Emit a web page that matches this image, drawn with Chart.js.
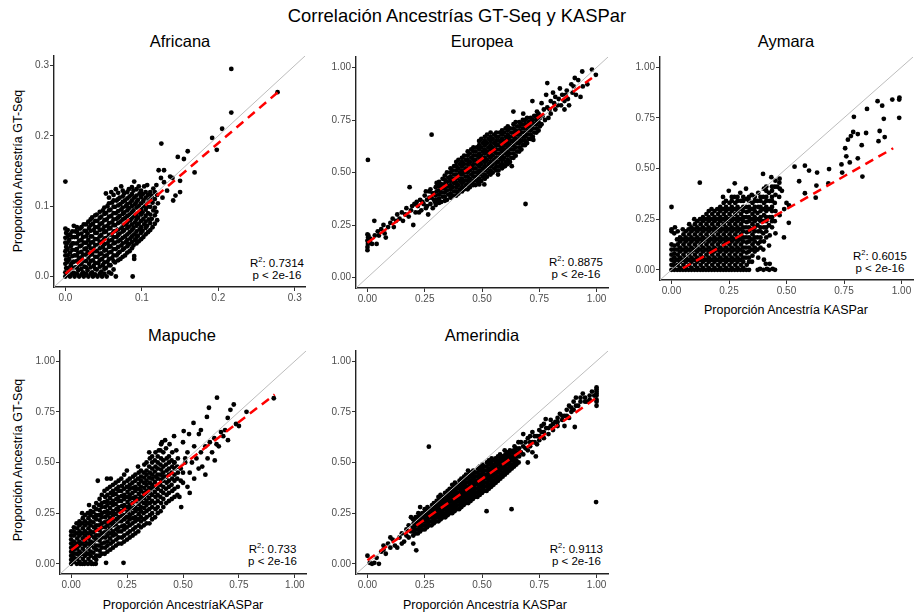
<!DOCTYPE html>
<html>
<head>
<meta charset="utf-8">
<script src="https://cdn.jsdelivr.net/npm/chart.js@4.4.1/dist/chart.umd.min.js"></script>
<style>
  body { margin: 0; background: #fff; font-family: "Liberation Sans", Arial, sans-serif; }
  #page { position: relative; width: 914px; height: 614px; overflow: hidden; }
  canvas { position: absolute; }
  .t { position: absolute; white-space: nowrap; transform: translate(-50%, -50%); color: #000; }
  .main { font-size: 18.4px; }
  .panel { font-size: 16.5px; }
  .axis { font-size: 12.5px; }
  .ylab { transform: translate(-50%, -50%) rotate(-90deg); }
  .stat { position: absolute; white-space: nowrap; font-size: 11.5px; line-height: 11.5px; text-align: center; transform: translate(-100%, -50%); }
  .stat sup { font-size: 7.5px; line-height: 0; }
</style>
</head>
<body>
<div id="page">
  <div class="t main" style="left:457px; top:16px;">Correlación Ancestrías GT-Seq y KASPar</div>

  <div class="t panel" style="left:180px; top:41px;">Africana</div>
  <div class="t panel" style="left:482px; top:41px;">Europea</div>
  <div class="t panel" style="left:786px; top:41px;">Aymara</div>
  <div class="t panel" style="left:182px; top:335px;">Mapuche</div>
  <div class="t panel" style="left:482px; top:335px;">Amerindia</div>

  <div class="t axis ylab" style="left:18px; top:171px;">Proporción Ancestría GT-Seq</div>
  <div class="t axis ylab" style="left:18px; top:460px;">Proporción Ancestría GT-Seq</div>
  <div class="t axis" style="left:786px; top:310px;">Proporción Ancestría KASPar</div>
  <div class="t axis" style="left:183px; top:605px;">Proporción AncestríaKASPar</div>
  <div class="t axis" style="left:485px; top:605px;">Proporción Ancestría KASPar</div>

  <div class="stat" style="left:304px; top:269px;">R<sup>2</sup>: 0.7314<br>p &lt; 2e-16</div>
  <div class="stat" style="left:603px; top:268px;">R<sup>2</sup>: 0.8875<br>p &lt; 2e-16</div>
  <div class="stat" style="left:907px; top:262px;">R<sup>2</sup>: 0.6015<br>p &lt; 2e-16</div>
  <div class="stat" style="left:297px; top:555px;">R<sup>2</sup>: 0.733<br>p &lt; 2e-16</div>
  <div class="stat" style="left:603px; top:555px;">R<sup>2</sup>: 0.9113<br>p &lt; 2e-16</div>

  <canvas id="afr"></canvas>
  <canvas id="eur"></canvas>
  <canvas id="aym"></canvas>
  <canvas id="map"></canvas>
  <canvas id="ame"></canvas>
</div>

<script>
// ticks
const ticksAfr = [0, 0.1, 0.2, 0.3];
const labelsAfr = ['0.0', '0.1', '0.2', '0.3'];
const ticks01 = [0, 0.25, 0.5, 0.75, 1];
const labels01 = ['0.00', '0.25', '0.50', '0.75', '1.00'];

// y = x reference line and fitted lines (KASPar, GT-Seq)
const identityLine = [[-0.2, -0.2], [1.3, 1.3]];
const fitAfricana = [[0, 0.004], [0.278, 0.262]];
const fitEuropea = [[0, 0.165], [0.98, 0.95]];
const fitAymara = [[0.05, 0.008], [0.964, 0.6]];
const fitMapuche = [[0, 0.067], [0.91, 0.835]];
const fitAmerindia = [[0, 0.018], [1, 0.82]];

// individuals: [KASPar, GT-Seq]
const africana = [
  [0,0],[0,0.006],[0.001,0.012],[0,0.018],[0.001,0.024],[0,0.03],[0,0.036],[0.001,0.042],[0,0.048],[0,0.055],[0.001,0.062],[0,0.068],[0,0.135],
  [0.006,0],[0.005,0.008],[0.007,0.016],[0.005,0.025],[0.006,0.034],[0.007,0.043],[0.005,0.052],[0.006,0.06],
  [0.012,0],[0.011,0.005],[0.013,0.013],[0.011,0.021],[0.012,0.03],[0.013,0.038],[0.011,0.047],[0.012,0.056],[0.013,0.064],[0.011,0.072],
  [0.018,0],[0.017,0.009],[0.019,0.017],[0.018,0.026],[0.017,0.034],[0.019,0.043],[0.018,0.051],[0.017,0.06],[0.019,0.068],
  [0.024,0],[0.023,0.006],[0.025,0.014],[0.024,0.022],[0.023,0.031],[0.025,0.039],[0.024,0.048],[0.023,0.056],[0.025,0.065],[0.024,0.074],
  [0.03,0],[0.029,0.009],[0.031,0.018],[0.03,0.027],[0.029,0.035],[0.031,0.044],[0.03,0.052],[0.029,0.061],[0.031,0.069],[0.03,0.078],
  [0.036,0],[0.035,0.006],[0.037,0.015],[0.036,0.023],[0.035,0.032],[0.037,0.04],[0.036,0.049],[0.035,0.057],[0.037,0.066],[0.036,0.075],[0.035,0.084],
  [0.042,0],[0.041,0.01],[0.043,0.019],[0.042,0.028],[0.041,0.036],[0.043,0.045],[0.042,0.053],[0.041,0.062],[0.043,0.07],[0.042,0.079],[0.041,0.088],
  [0.048,0],[0.047,0.007],[0.049,0.016],[0.048,0.025],[0.047,0.033],[0.049,0.042],[0.048,0.05],[0.047,0.059],[0.049,0.067],[0.048,0.076],[0.047,0.085],[0.049,0.094],
  [0.054,0],[0.053,0.012],[0.055,0.021],[0.054,0.03],[0.053,0.038],[0.055,0.047],[0.054,0.055],[0.053,0.064],[0.055,0.072],[0.054,0.081],[0.053,0.09],[0.055,0.1],[0.053,0.118],
  [0.06,0.004],[0.059,0.016],[0.061,0.026],[0.06,0.035],[0.059,0.043],[0.061,0.052],[0.06,0.06],[0.059,0.069],[0.061,0.077],[0.06,0.086],[0.059,0.095],[0.061,0.105],[0.06,0.12],
  [0.066,0],[0.065,0.02],[0.067,0.03],[0.066,0.039],[0.065,0.048],[0.067,0.056],[0.066,0.065],[0.065,0.073],[0.067,0.082],[0.066,0.09],[0.065,0.099],[0.067,0.108],[0.066,0.124],
  [0.072,0.025],[0.071,0.035],[0.073,0.044],[0.072,0.052],[0.071,0.061],[0.073,0.069],[0.072,0.078],[0.071,0.086],[0.073,0.095],[0.072,0.103],[0.071,0.112],[0.073,0.128],
  [0.078,0.03],[0.077,0.04],[0.079,0.049],[0.078,0.057],[0.077,0.066],[0.079,0.074],[0.078,0.083],[0.077,0.091],[0.079,0.1],[0.078,0.108],[0.077,0.118],
  [0.084,0.036],[0.083,0.046],[0.085,0.054],[0.084,0.063],[0.083,0.071],[0.085,0.08],[0.084,0.088],[0.083,0.097],[0.085,0.105],[0.084,0.114],[0.083,0.124],
  [0.09,0.025],[0.089,0.044],[0.091,0.052],[0.09,0.06],[0.089,0.069],[0.091,0.077],[0.09,0.086],[0.089,0.094],[0.091,0.103],[0.09,0.112],[0.089,0.122],[0.09,0.135],
  [0.096,0.05],[0.095,0.058],[0.097,0.067],[0.096,0.075],[0.095,0.084],[0.097,0.092],[0.096,0.1],[0.095,0.109],[0.097,0.118],[0.096,0.128],
  [0.102,0.056],[0.101,0.065],[0.103,0.074],[0.102,0.082],[0.101,0.091],[0.103,0.1],[0.102,0.108],[0.101,0.117],[0.103,0.128],
  [0.108,0.063],[0.107,0.072],[0.109,0.081],[0.108,0.09],[0.107,0.099],[0.109,0.107],[0.108,0.116],[0.107,0.13],
  [0.114,0.07],[0.113,0.082],[0.115,0.094],[0.114,0.105],[0.113,0.115],[0.115,0.125],
  [0.12,0.08],[0.119,0.092],[0.121,0.104],[0.12,0.116],[0.119,0.13],
  [0.088,0],[0.09,0.029],[0.122,0.151],[0.129,0.151],[0.137,0.142],[0.129,0.134],[0.1255,0.189],[0.127,0.112],[0.141,0.108],[0.144,0.115],
  [0.15,0.12],[0.15,0.136],[0.147,0.17],[0.155,0.167],[0.16,0.178],[0.169,0.148],[0.192,0.197],[0.198,0.18],[0.205,0.21],[0.217,0.233],
  [0.217,0.295],[0.2775,0.262],[0.133,0.122],[0.14,0.14],[0.125,0.14]
];
const africanaDense = [
  [0.003,0.003],[0.003,0.012],[0.003,0.021],[0.003,0.03],[0.003,0.039],[0.003,0.048],[0.003,0.057],[0.003,0.066],
  [0.009,0.004],[0.009,0.012],[0.009,0.02],[0.009,0.029],[0.009,0.038],[0.009,0.047],[0.009,0.056],[0.009,0.064],
  [0.015,0.004],[0.015,0.013],[0.015,0.022],[0.015,0.03],[0.015,0.039],[0.015,0.047],[0.015,0.056],[0.015,0.064],[0.015,0.07],
  [0.021,0.003],[0.021,0.011],[0.021,0.018],[0.021,0.027],[0.021,0.035],[0.021,0.044],[0.021,0.052],[0.021,0.061],[0.021,0.07],
  [0.027,0.004],[0.027,0.013],[0.027,0.022],[0.027,0.031],[0.027,0.04],[0.027,0.048],[0.027,0.057],[0.027,0.065],[0.027,0.074],
  [0.033,0.004],[0.033,0.013],[0.033,0.022],[0.033,0.031],[0.033,0.04],[0.033,0.048],[0.033,0.057],[0.033,0.065],[0.033,0.073],[0.033,0.081],
  [0.039,0.003],[0.039,0.011],[0.039,0.019],[0.039,0.028],[0.039,0.036],[0.039,0.045],[0.039,0.053],[0.039,0.062],[0.039,0.07],[0.039,0.079],[0.039,0.087],
  [0.045,0.004],[0.045,0.014],[0.045,0.023],[0.045,0.032],[0.045,0.04],[0.045,0.049],[0.045,0.057],[0.045,0.066],[0.045,0.074],[0.045,0.083],[0.045,0.092],
  [0.051,0.004],[0.051,0.011],[0.051,0.02],[0.051,0.029],[0.051,0.037],[0.051,0.046],[0.051,0.054],[0.051,0.063],[0.051,0.071],[0.051,0.08],[0.051,0.089],[0.051,0.098],
  [0.057,0.006],[0.057,0.016],[0.057,0.025],[0.057,0.034],[0.057,0.042],[0.057,0.051],[0.057,0.059],[0.057,0.068],[0.057,0.076],[0.057,0.085],[0.057,0.094],[0.057,0.104],[0.057,0.112],
  [0.063,0.01],[0.063,0.022],[0.063,0.03],[0.063,0.039],[0.063,0.047],[0.063,0.056],[0.063,0.064],[0.063,0.073],[0.063,0.081],[0.063,0.09],[0.063,0.099],[0.063,0.108],[0.063,0.116],
  [0.069,0.023],[0.069,0.033],[0.069,0.042],[0.069,0.05],[0.069,0.059],[0.069,0.067],[0.069,0.076],[0.069,0.084],[0.069,0.093],[0.069,0.101],[0.069,0.11],[0.069,0.119],
  [0.075,0.028],[0.075,0.038],[0.075,0.047],[0.075,0.055],[0.075,0.064],[0.075,0.072],[0.075,0.081],[0.075,0.089],[0.075,0.098],[0.075,0.106],[0.075,0.114],[0.075,0.122],
  [0.081,0.034],[0.081,0.043],[0.081,0.052],[0.081,0.06],[0.081,0.069],[0.081,0.077],[0.081,0.086],[0.081,0.094],[0.081,0.103],[0.081,0.111],[0.081,0.12],
  [0.087,0.04],[0.087,0.049],[0.087,0.057],[0.087,0.066],[0.087,0.074],[0.087,0.083],[0.087,0.091],[0.087,0.1],[0.087,0.108],[0.087,0.117],[0.087,0.127],
  [0.093,0.047],[0.093,0.055],[0.093,0.064],[0.093,0.072],[0.093,0.081],[0.093,0.089],[0.093,0.098],[0.093,0.106],[0.093,0.115],[0.093,0.124],
  [0.099,0.053],[0.099,0.062],[0.099,0.07],[0.099,0.079],[0.099,0.088],[0.099,0.096],[0.099,0.104],[0.099,0.113],[0.099,0.122],
  [0.105,0.06],[0.105,0.069],[0.105,0.078],[0.105,0.086],[0.105,0.095],[0.105,0.103],[0.105,0.112],[0.105,0.12],
  [0.111,0.066],[0.111,0.076],[0.111,0.088],[0.111,0.099],[0.111,0.11],[0.111,0.12],
  [0.117,0.075],[0.117,0.087],[0.117,0.098],[0.117,0.11],[0.117,0.12]
];

const europea = [
  [0,0.13],[0,0.145],[0.002,0.16],[0,0.175],[0.003,0.19],[0,0.205],[0.004,0.2],[0.002,0.56],
  [0.01,0.17],[0.012,0.185],[0.02,0.16],[0.03,0.27],[0.032,0.2],[0.04,0.16],[0.045,0.22],[0.05,0.2],[0.06,0.23],[0.07,0.25],[0.075,0.21],[0.08,0.19],
  [0.09,0.24],[0.1,0.26],[0.11,0.28],[0.115,0.24],[0.125,0.27],[0.13,0.3],[0.14,0.28],[0.15,0.31],[0.155,0.27],[0.165,0.3],
  [0.17,0.33],[0.18,0.29],[0.184,0.43],[0.19,0.32],[0.2,0.25],[0.205,0.35],[0.21,0.31],[0.22,0.34],[0.23,0.37],[0.235,0.32],
  [0.245,0.35],[0.25,0.39],[0.255,0.33],[0.26,0.37],[0.265,0.3],[0.27,0.41],[0.275,0.35],[0.28,0.38],[0.28,0.68],[0.285,0.33],[0.29,0.4],[0.295,0.36],
  [0.298,0.345],[0.302,0.37],[0.298,0.39],[0.302,0.41],[0.298,0.43],[0.302,0.45],
  [0.322,0.36],[0.328,0.385],[0.322,0.405],[0.328,0.425],[0.322,0.445],[0.328,0.47],
  [0.347,0.37],[0.353,0.395],[0.347,0.415],[0.353,0.435],[0.347,0.455],[0.353,0.475],[0.347,0.5],
  [0.372,0.39],[0.378,0.41],[0.372,0.43],[0.378,0.45],[0.372,0.47],[0.378,0.49],[0.372,0.51],[0.378,0.53],
  [0.397,0.4],[0.403,0.42],[0.397,0.44],[0.403,0.46],[0.397,0.48],[0.403,0.5],[0.397,0.52],[0.403,0.54],[0.397,0.56],
  [0.422,0.42],[0.428,0.44],[0.422,0.46],[0.428,0.48],[0.422,0.5],[0.428,0.52],[0.422,0.54],[0.428,0.56],[0.422,0.58],
  [0.447,0.43],[0.453,0.45],[0.447,0.47],[0.453,0.49],[0.447,0.51],[0.453,0.53],[0.447,0.55],[0.453,0.57],[0.447,0.59],[0.453,0.61],
  [0.472,0.44],[0.478,0.46],[0.472,0.48],[0.478,0.5],[0.472,0.52],[0.478,0.54],[0.472,0.56],[0.478,0.58],[0.472,0.6],[0.478,0.62],
  [0.497,0.46],[0.503,0.48],[0.497,0.5],[0.503,0.52],[0.497,0.54],[0.503,0.56],[0.497,0.58],[0.503,0.6],[0.497,0.62],[0.503,0.64],[0.497,0.66],
  [0.522,0.48],[0.528,0.5],[0.522,0.52],[0.528,0.54],[0.522,0.56],[0.528,0.58],[0.522,0.6],[0.528,0.62],[0.522,0.64],[0.528,0.66],[0.522,0.68],
  [0.547,0.5],[0.553,0.52],[0.547,0.54],[0.553,0.56],[0.547,0.58],[0.553,0.6],[0.547,0.62],[0.553,0.64],[0.547,0.66],[0.553,0.68],
  [0.572,0.51],[0.578,0.53],[0.572,0.55],[0.578,0.57],[0.572,0.59],[0.578,0.61],[0.572,0.63],[0.578,0.65],[0.572,0.67],[0.578,0.69],
  [0.597,0.53],[0.603,0.55],[0.597,0.57],[0.603,0.59],[0.597,0.61],[0.603,0.63],[0.597,0.65],[0.603,0.67],[0.597,0.69],[0.603,0.71],
  [0.622,0.55],[0.628,0.57],[0.622,0.59],[0.628,0.61],[0.622,0.63],[0.628,0.65],[0.622,0.67],[0.628,0.69],[0.622,0.71],
  [0.647,0.58],[0.653,0.6],[0.647,0.62],[0.653,0.64],[0.647,0.66],[0.653,0.68],[0.647,0.7],[0.653,0.72],[0.647,0.74],
  [0.672,0.61],[0.678,0.63],[0.672,0.65],[0.678,0.67],[0.672,0.69],[0.678,0.71],[0.672,0.73],[0.678,0.75],
  [0.697,0.64],[0.703,0.66],[0.697,0.68],[0.703,0.7],[0.697,0.72],[0.703,0.74],[0.697,0.76],
  [0.722,0.67],[0.728,0.69],[0.722,0.71],[0.728,0.73],[0.722,0.75],[0.728,0.77],
  [0.747,0.7],[0.753,0.72],[0.747,0.74],[0.753,0.76],[0.747,0.78],
  [0.488,0.443],[0.51,0.443],[0.63,0.53],[0.57,0.49],[0.6,0.53],[0.69,0.35],[0.637,0.79],[0.68,0.78],[0.72,0.84],[0.724,0.655],
  [0.76,0.83],[0.77,0.8],[0.78,0.87],[0.785,0.926],[0.8,0.84],[0.8,0.78],[0.81,0.88],[0.82,0.86],[0.83,0.82],[0.84,0.9],
  [0.85,0.87],[0.86,0.84],[0.87,0.89],[0.88,0.82],[0.89,0.92],[0.9,0.91],[0.905,0.95],[0.91,0.87],[0.92,0.94],[0.93,0.86],
  [0.9375,0.981],[0.94,0.91],[0.96,0.92],[0.98,0.99],[0.997,0.965],[0.74,0.79],[0.76,0.73],[0.79,0.76],[0.82,0.8],[0.86,0.8],
  [0.765,0.77],[0.775,0.75],[0.785,0.81],[0.795,0.8],[0.815,0.83],[0.835,0.85],[0.845,0.82],[0.865,0.87],[0.875,0.85],[0.895,0.88],
  [0.215,0.36],[0.225,0.31],[0.24,0.36],[0.26,0.34],[0.27,0.38],[0.285,0.4],[0.275,0.42],[0.29,0.37],[0.255,0.41],[0.195,0.34]
];
const europeaDense = [
  [0.3125,0.355],[0.3125,0.375],[0.3125,0.395],[0.3125,0.415],[0.3125,0.435],[0.3125,0.455],
  [0.3375,0.365],[0.3375,0.385],[0.3375,0.405],[0.3375,0.425],[0.3375,0.445],[0.3375,0.465],[0.3375,0.485],
  [0.3625,0.38],[0.3625,0.4],[0.3625,0.42],[0.3625,0.44],[0.3625,0.46],[0.3625,0.48],[0.3625,0.5],[0.3625,0.52],
  [0.3875,0.39],[0.3875,0.41],[0.3875,0.43],[0.3875,0.45],[0.3875,0.47],[0.3875,0.49],[0.3875,0.51],[0.3875,0.53],[0.3875,0.55],
  [0.4125,0.41],[0.4125,0.43],[0.4125,0.45],[0.4125,0.47],[0.4125,0.49],[0.4125,0.51],[0.4125,0.53],[0.4125,0.55],[0.4125,0.57],
  [0.4375,0.42],[0.4375,0.44],[0.4375,0.46],[0.4375,0.48],[0.4375,0.5],[0.4375,0.52],[0.4375,0.54],[0.4375,0.56],[0.4375,0.58],[0.4375,0.6],
  [0.4625,0.44],[0.4625,0.46],[0.4625,0.48],[0.4625,0.5],[0.4625,0.52],[0.4625,0.54],[0.4625,0.56],[0.4625,0.58],[0.4625,0.6],[0.4625,0.62],
  [0.4875,0.45],[0.4875,0.47],[0.4875,0.49],[0.4875,0.51],[0.4875,0.53],[0.4875,0.55],[0.4875,0.57],[0.4875,0.59],[0.4875,0.61],[0.4875,0.63],[0.4875,0.65],
  [0.5125,0.47],[0.5125,0.49],[0.5125,0.51],[0.5125,0.53],[0.5125,0.55],[0.5125,0.57],[0.5125,0.59],[0.5125,0.61],[0.5125,0.63],[0.5125,0.65],[0.5125,0.67],
  [0.5375,0.49],[0.5375,0.51],[0.5375,0.53],[0.5375,0.55],[0.5375,0.57],[0.5375,0.59],[0.5375,0.61],[0.5375,0.63],[0.5375,0.65],[0.5375,0.67],[0.5375,0.69],
  [0.5625,0.51],[0.5625,0.53],[0.5625,0.55],[0.5625,0.57],[0.5625,0.59],[0.5625,0.61],[0.5625,0.63],[0.5625,0.65],[0.5625,0.67],[0.5625,0.69],
  [0.5875,0.52],[0.5875,0.54],[0.5875,0.56],[0.5875,0.58],[0.5875,0.6],[0.5875,0.62],[0.5875,0.64],[0.5875,0.66],[0.5875,0.68],[0.5875,0.7],
  [0.6125,0.54],[0.6125,0.56],[0.6125,0.58],[0.6125,0.6],[0.6125,0.62],[0.6125,0.64],[0.6125,0.66],[0.6125,0.68],[0.6125,0.7],[0.6125,0.72],
  [0.6375,0.57],[0.6375,0.59],[0.6375,0.61],[0.6375,0.63],[0.6375,0.65],[0.6375,0.67],[0.6375,0.69],[0.6375,0.71],[0.6375,0.73],
  [0.6625,0.6],[0.6625,0.62],[0.6625,0.64],[0.6625,0.66],[0.6625,0.68],[0.6625,0.7],[0.6625,0.72],[0.6625,0.74],
  [0.6875,0.63],[0.6875,0.65],[0.6875,0.67],[0.6875,0.69],[0.6875,0.71],[0.6875,0.73],[0.6875,0.75],
  [0.7125,0.66],[0.7125,0.68],[0.7125,0.7],[0.7125,0.72],[0.7125,0.74],[0.7125,0.76],
  [0.7375,0.69],[0.7375,0.71],[0.7375,0.73],[0.7375,0.75],[0.7375,0.77]
];

const aymara = [
  [0,0],[0,0.025],[0,0.05],[0,0.075],[0,0.1],[0,0.125],[0,0.19],[0,0.2],[0,0.31],
  [0.012,0],[0.012,0.02],[0.012,0.04],[0.012,0.06],[0.012,0.08],[0.012,0.1],[0.012,0.12],[0.012,0.18],[0.015,0.21],
  [0.025,0],[0.027,0.025],[0.024,0.05],[0.027,0.075],[0.024,0.1],[0.027,0.125],[0.024,0.15],[0.027,0.19],
  [0.05,0],[0.052,0.025],[0.049,0.05],[0.052,0.075],[0.049,0.1],[0.052,0.125],[0.049,0.15],[0.052,0.175],[0.049,0.2],
  [0.075,0],[0.077,0.025],[0.074,0.05],[0.077,0.075],[0.074,0.1],[0.077,0.125],[0.074,0.15],[0.077,0.175],[0.074,0.2],[0.077,0.225],
  [0.1,0],[0.102,0.025],[0.099,0.05],[0.102,0.075],[0.099,0.1],[0.102,0.125],[0.099,0.15],[0.102,0.175],[0.099,0.2],[0.102,0.225],[0.099,0.25],
  [0.125,0],[0.127,0.025],[0.124,0.05],[0.127,0.075],[0.124,0.1],[0.127,0.125],[0.124,0.15],[0.127,0.175],[0.124,0.2],[0.127,0.225],[0.124,0.25],[0.123,0.43],
  [0.15,0],[0.152,0.025],[0.149,0.05],[0.152,0.075],[0.149,0.1],[0.152,0.125],[0.149,0.15],[0.152,0.175],[0.149,0.2],[0.152,0.225],[0.149,0.25],[0.152,0.275],
  [0.175,0],[0.177,0.025],[0.174,0.05],[0.177,0.075],[0.174,0.1],[0.177,0.125],[0.174,0.15],[0.177,0.175],[0.174,0.2],[0.177,0.225],[0.174,0.25],[0.177,0.275],[0.174,0.3],
  [0.2,0],[0.202,0.025],[0.199,0.05],[0.202,0.075],[0.199,0.1],[0.202,0.125],[0.199,0.15],[0.202,0.175],[0.199,0.2],[0.202,0.225],[0.199,0.25],[0.202,0.275],[0.199,0.3],
  [0.225,0],[0.227,0.025],[0.224,0.05],[0.227,0.075],[0.224,0.1],[0.227,0.125],[0.224,0.15],[0.227,0.175],[0.224,0.2],[0.227,0.225],[0.224,0.25],[0.227,0.275],[0.224,0.3],[0.227,0.33],[0.224,0.36],
  [0.25,0],[0.252,0.025],[0.249,0.05],[0.252,0.075],[0.249,0.1],[0.252,0.125],[0.249,0.15],[0.252,0.175],[0.249,0.2],[0.252,0.225],[0.249,0.25],[0.252,0.275],[0.249,0.3],[0.252,0.33],[0.249,0.39],
  [0.275,0],[0.277,0.025],[0.274,0.05],[0.277,0.075],[0.274,0.1],[0.277,0.125],[0.274,0.15],[0.277,0.175],[0.274,0.2],[0.277,0.225],[0.274,0.25],[0.277,0.275],[0.274,0.3],[0.277,0.33],[0.274,0.36],[0.275,0.427],
  [0.3,0],[0.302,0.025],[0.299,0.05],[0.302,0.075],[0.299,0.1],[0.302,0.125],[0.299,0.15],[0.302,0.175],[0.299,0.2],[0.302,0.225],[0.299,0.25],[0.302,0.275],[0.299,0.3],[0.302,0.34],[0.299,0.38],
  [0.325,0],[0.327,0.025],[0.324,0.06],[0.327,0.085],[0.324,0.11],[0.327,0.135],[0.324,0.16],[0.327,0.185],[0.324,0.21],[0.327,0.235],[0.324,0.26],[0.327,0.285],[0.324,0.31],[0.327,0.35],[0.324,0.4],
  [0.35,0.04],[0.352,0.07],[0.349,0.1],[0.352,0.125],[0.349,0.15],[0.352,0.175],[0.349,0.2],[0.352,0.225],[0.349,0.25],[0.352,0.275],[0.349,0.3],[0.352,0.33],[0.349,0.37],
  [0.375,0],[0.377,0.06],[0.374,0.1],[0.377,0.13],[0.374,0.16],[0.377,0.19],[0.374,0.22],[0.377,0.25],[0.374,0.28],[0.377,0.31],[0.374,0.34],[0.377,0.38],
  [0.4,0],[0.402,0.05],[0.399,0.1],[0.402,0.14],[0.399,0.18],[0.402,0.21],[0.399,0.24],[0.402,0.27],[0.399,0.3],[0.402,0.33],[0.399,0.36],[0.402,0.4],[0.398,0.473],
  [0.425,0],[0.427,0.03],[0.424,0.12],[0.427,0.17],[0.424,0.22],[0.427,0.26],[0.424,0.3],[0.427,0.34],[0.424,0.38],[0.434,0.457],
  [0.45,0],[0.452,0.18],[0.449,0.24],[0.452,0.29],[0.449,0.33],[0.452,0.37],[0.449,0.41],[0.452,0.44],
  [0.47,0.27],[0.468,0.36],[0.471,0.4],[0.469,0.43],
  [0.535,0.509],[0.555,0.437],[0.58,0.514],[0.598,0.49],[0.58,0.378],[0.627,0.356],[0.63,0.416],[0.633,0.48],[0.685,0.497],[0.682,0.426],
  [0.742,0.48],[0.739,0.52],[0.76,0.56],[0.755,0.6],[0.767,0.642],[0.78,0.66],[0.775,0.53],[0.793,0.755],[0.79,0.68],[0.81,0.67],
  [0.846,0.675],[0.81,0.55],[0.827,0.615],[0.83,0.46],[0.85,0.794],[0.896,0.832],[0.916,0.81],[0.923,0.745],[0.905,0.685],[0.9,0.635],
  [0.927,0.655],[0.96,0.84],[0.991,0.85],[0.99,0.84],[0.99,0.75],[0.511,0.318],[0.51,0.232],[0.489,0.16],[0.47,0.45],[0.46,0.41],
  [0.48,0.39],[0.5,0.33],[0.49,0.3],[0.44,0.005],[0.415,0.005],[0.385,0.005],[0.41,0.03]
];
const aymaraDense = [
  [0.037,0],[0.037,0.01],[0.037,0.04],[0.037,0.06],[0.037,0.09],[0.037,0.11],[0.037,0.14],[0.037,0.16],
  [0.062,0],[0.062,0.01],[0.062,0.04],[0.062,0.06],[0.062,0.09],[0.062,0.11],[0.062,0.14],[0.062,0.16],[0.062,0.19],
  [0.087,0],[0.087,0.01],[0.087,0.04],[0.087,0.06],[0.087,0.09],[0.087,0.11],[0.087,0.14],[0.087,0.16],[0.087,0.19],[0.087,0.21],
  [0.112,0],[0.112,0.01],[0.112,0.04],[0.112,0.06],[0.112,0.09],[0.112,0.11],[0.112,0.14],[0.112,0.16],[0.112,0.19],[0.112,0.21],[0.112,0.24],
  [0.137,0],[0.137,0.01],[0.137,0.04],[0.137,0.06],[0.137,0.09],[0.137,0.11],[0.137,0.14],[0.137,0.16],[0.137,0.19],[0.137,0.21],[0.137,0.24],[0.137,0.26],
  [0.162,0],[0.162,0.01],[0.162,0.04],[0.162,0.06],[0.162,0.09],[0.162,0.11],[0.162,0.14],[0.162,0.16],[0.162,0.19],[0.162,0.21],[0.162,0.24],[0.162,0.26],[0.162,0.29],
  [0.187,0],[0.187,0.01],[0.187,0.04],[0.187,0.06],[0.187,0.09],[0.187,0.11],[0.187,0.14],[0.187,0.16],[0.187,0.19],[0.187,0.21],[0.187,0.24],[0.187,0.26],[0.187,0.29],
  [0.212,0],[0.212,0.01],[0.212,0.04],[0.212,0.06],[0.212,0.09],[0.212,0.11],[0.212,0.14],[0.212,0.16],[0.212,0.19],[0.212,0.21],[0.212,0.24],[0.212,0.26],[0.212,0.29],[0.212,0.31],
  [0.237,0],[0.237,0.01],[0.237,0.04],[0.237,0.06],[0.237,0.09],[0.237,0.11],[0.237,0.14],[0.237,0.16],[0.237,0.19],[0.237,0.21],[0.237,0.24],[0.237,0.26],[0.237,0.29],[0.237,0.31],[0.237,0.34],
  [0.262,0],[0.262,0.01],[0.262,0.04],[0.262,0.06],[0.262,0.09],[0.262,0.11],[0.262,0.14],[0.262,0.16],[0.262,0.19],[0.262,0.21],[0.262,0.24],[0.262,0.26],[0.262,0.29],[0.262,0.31],[0.262,0.34],[0.262,0.36],
  [0.287,0],[0.287,0.01],[0.287,0.04],[0.287,0.06],[0.287,0.09],[0.287,0.11],[0.287,0.14],[0.287,0.16],[0.287,0.19],[0.287,0.21],[0.287,0.24],[0.287,0.26],[0.287,0.29],[0.287,0.31],[0.287,0.34],[0.287,0.36],
  [0.312,0],[0.312,0.01],[0.312,0.04],[0.312,0.06],[0.312,0.09],[0.312,0.11],[0.312,0.14],[0.312,0.16],[0.312,0.19],[0.312,0.21],[0.312,0.24],[0.312,0.26],[0.312,0.29],[0.312,0.31],[0.312,0.34],[0.312,0.36],
  [0.337,0],[0.337,0.04],[0.337,0.06],[0.337,0.09],[0.337,0.11],[0.337,0.14],[0.337,0.16],[0.337,0.19],[0.337,0.21],[0.337,0.24],[0.337,0.26],[0.337,0.29],[0.337,0.31],[0.337,0.34],[0.337,0.36],
  [0.362,0.09],[0.362,0.11],[0.362,0.14],[0.362,0.16],[0.362,0.19],[0.362,0.21],[0.362,0.24],[0.362,0.26],[0.362,0.29],[0.362,0.31],[0.362,0.34],[0.362,0.36],
  [0.387,0.11],[0.387,0.14],[0.387,0.16],[0.387,0.19],[0.387,0.21],[0.387,0.24],[0.387,0.26],[0.387,0.29],[0.387,0.31],[0.387,0.34],[0.387,0.36],
  [0.412,0.16],[0.412,0.19],[0.412,0.21],[0.412,0.24],[0.412,0.26],[0.412,0.29],[0.412,0.31],[0.412,0.34],[0.412,0.36],[0.412,0.39],[0.412,0.41],
  [0.437,0.21],[0.437,0.24],[0.437,0.26],[0.437,0.29],[0.437,0.31],[0.437,0.34],[0.437,0.36],[0.437,0.39],[0.437,0.41]
];

const mapuche = [
  [0,0],[0,0.02],[0,0.04],[0,0.06],[0,0.08],[0,0.1],[0,0.12],[0,0.14],[0,0.16],
  [0.025,0],[0.027,0.025],[0.024,0.05],[0.027,0.075],[0.024,0.1],[0.027,0.125],[0.024,0.15],[0.027,0.175],[0.024,0.2],
  [0.05,0],[0.052,0.025],[0.049,0.05],[0.052,0.075],[0.049,0.1],[0.052,0.125],[0.049,0.15],[0.052,0.175],[0.049,0.2],[0.052,0.225],[0.049,0.25],
  [0.075,0],[0.077,0.025],[0.074,0.05],[0.077,0.075],[0.074,0.1],[0.077,0.125],[0.074,0.15],[0.077,0.175],[0.074,0.2],[0.077,0.225],[0.074,0.25],
  [0.1,0],[0.102,0.03],[0.099,0.055],[0.102,0.08],[0.099,0.105],[0.102,0.13],[0.099,0.155],[0.102,0.18],[0.099,0.205],[0.102,0.23],[0.099,0.255],[0.102,0.28],
  [0.125,0.04],[0.127,0.065],[0.124,0.09],[0.127,0.115],[0.124,0.14],[0.127,0.165],[0.124,0.19],[0.127,0.215],[0.124,0.24],[0.127,0.265],[0.124,0.29],[0.127,0.32],[0.119,0.41],
  [0.15,0.05],[0.152,0.08],[0.149,0.105],[0.152,0.13],[0.149,0.155],[0.152,0.18],[0.149,0.205],[0.152,0.23],[0.149,0.255],[0.152,0.28],[0.149,0.305],[0.152,0.33],[0.149,0.36],
  [0.175,0.07],[0.177,0.1],[0.174,0.125],[0.177,0.15],[0.174,0.175],[0.177,0.2],[0.174,0.225],[0.177,0.25],[0.174,0.275],[0.177,0.3],[0.174,0.325],[0.177,0.35],[0.174,0.38],[0.177,0.42],
  [0.2,0.09],[0.202,0.12],[0.199,0.145],[0.202,0.17],[0.199,0.195],[0.202,0.22],[0.199,0.245],[0.202,0.27],[0.199,0.295],[0.202,0.32],[0.199,0.345],[0.202,0.37],[0.199,0.4],
  [0.225,0.1],[0.227,0.13],[0.224,0.16],[0.227,0.185],[0.224,0.21],[0.227,0.235],[0.224,0.26],[0.227,0.285],[0.224,0.31],[0.227,0.335],[0.224,0.36],[0.227,0.385],[0.224,0.42],
  [0.25,0.12],[0.252,0.15],[0.249,0.18],[0.252,0.205],[0.249,0.23],[0.252,0.255],[0.249,0.28],[0.252,0.305],[0.249,0.33],[0.252,0.355],[0.249,0.38],[0.252,0.41],[0.249,0.46],
  [0.275,0.14],[0.277,0.17],[0.274,0.2],[0.277,0.225],[0.274,0.25],[0.277,0.275],[0.274,0.3],[0.277,0.325],[0.274,0.35],[0.277,0.375],[0.274,0.4],[0.277,0.43],
  [0.3,0.16],[0.302,0.19],[0.299,0.22],[0.302,0.245],[0.299,0.27],[0.302,0.295],[0.299,0.32],[0.302,0.345],[0.299,0.37],[0.302,0.395],[0.299,0.42],[0.302,0.45],[0.299,0.48],
  [0.325,0.19],[0.327,0.22],[0.324,0.25],[0.327,0.275],[0.324,0.3],[0.327,0.325],[0.324,0.35],[0.327,0.375],[0.324,0.4],[0.327,0.425],[0.324,0.45],[0.327,0.49],
  [0.35,0.2],[0.352,0.24],[0.349,0.27],[0.352,0.3],[0.349,0.325],[0.352,0.35],[0.349,0.375],[0.352,0.4],[0.349,0.425],[0.352,0.45],[0.349,0.48],[0.352,0.52],[0.349,0.55],
  [0.375,0.23],[0.377,0.27],[0.374,0.3],[0.377,0.33],[0.374,0.355],[0.377,0.38],[0.374,0.405],[0.377,0.43],[0.374,0.455],[0.377,0.48],[0.374,0.51],[0.377,0.55],
  [0.4,0.26],[0.402,0.3],[0.399,0.33],[0.402,0.36],[0.399,0.39],[0.402,0.415],[0.399,0.44],[0.402,0.465],[0.399,0.49],[0.402,0.52],[0.399,0.56],[0.402,0.59],
  [0.425,0.3],[0.427,0.34],[0.424,0.37],[0.427,0.4],[0.424,0.43],[0.427,0.46],[0.424,0.49],[0.427,0.52],[0.424,0.57],
  [0.45,0.32],[0.452,0.36],[0.449,0.39],[0.452,0.42],[0.449,0.45],[0.452,0.48],[0.449,0.51],[0.452,0.55],
  [0.475,0.34],[0.477,0.38],[0.474,0.42],[0.477,0.45],[0.474,0.48],[0.477,0.52],
  [0.652,0.82],[0.906,0.817],[0.784,0.75],[0.727,0.786],[0.712,0.76],[0.737,0.69],[0.75,0.68],[0.701,0.61],[0.688,0.66],[0.616,0.77],
  [0.607,0.725],[0.547,0.695],[0.503,0.655],[0.527,0.64],[0.571,0.64],[0.642,0.51],[0.586,0.48],[0.492,0.28],[0.484,0.33],[0.46,0.63],
  [0.406,0.6],[0.392,0.56],[0.234,0.005],[0.156,0.005],[0.127,0.04],[0.16,0.42],[0.08,0.29],[0.5,0.4],[0.5,0.45],[0.51,0.5],
  [0.52,0.55],[0.53,0.45],[0.54,0.5],[0.55,0.58],[0.56,0.52],[0.57,0.47],[0.58,0.55],[0.6,0.58],[0.61,0.52],[0.62,0.6],
  [0.63,0.55],[0.64,0.62],[0.66,0.58],[0.67,0.65],[0.68,0.63],[0.7,0.72],[0.55,0.42],[0.52,0.38],[0.49,0.41],[0.49,0.47],
  [0.47,0.56],[0.5,0.6],[0.44,0.59],[0.42,0.61],[0.58,0.66],[0.6,0.44],[0.53,0.35],[0.51,0.52],[0.46,0.5],[0.65,0.59],
  [0.04,0],[0.06,0],[0.09,0],[0.11,0]
];
const mapucheDense = [
  [0.012,0.01],[0.012,0.03],[0.012,0.05],[0.012,0.07],[0.012,0.09],[0.012,0.11],[0.012,0.14],[0.012,0.16],[0.012,0.18],
  [0.037,0.01],[0.037,0.04],[0.037,0.06],[0.037,0.09],[0.037,0.11],[0.037,0.14],[0.037,0.16],[0.037,0.19],[0.037,0.21],
  [0.062,0.01],[0.062,0.04],[0.062,0.06],[0.062,0.09],[0.062,0.11],[0.062,0.14],[0.062,0.16],[0.062,0.19],[0.062,0.21],[0.062,0.24],
  [0.087,0.01],[0.087,0.04],[0.087,0.06],[0.087,0.09],[0.087,0.11],[0.087,0.14],[0.087,0.16],[0.087,0.19],[0.087,0.21],[0.087,0.24],[0.087,0.26],
  [0.112,0.02],[0.112,0.04],[0.112,0.07],[0.112,0.09],[0.112,0.12],[0.112,0.14],[0.112,0.17],[0.112,0.19],[0.112,0.22],[0.112,0.24],[0.112,0.27],[0.112,0.3],
  [0.137,0.05],[0.137,0.08],[0.137,0.1],[0.137,0.13],[0.137,0.15],[0.137,0.18],[0.137,0.2],[0.137,0.23],[0.137,0.25],[0.137,0.28],[0.137,0.3],[0.137,0.34],
  [0.162,0.06],[0.162,0.09],[0.162,0.11],[0.162,0.14],[0.162,0.16],[0.162,0.19],[0.162,0.21],[0.162,0.24],[0.162,0.26],[0.162,0.29],[0.162,0.31],[0.162,0.34],[0.162,0.37],
  [0.187,0.08],[0.187,0.11],[0.187,0.14],[0.187,0.16],[0.187,0.19],[0.187,0.21],[0.187,0.24],[0.187,0.26],[0.187,0.29],[0.187,0.31],[0.187,0.34],[0.187,0.36],[0.187,0.39],
  [0.212,0.1],[0.212,0.13],[0.212,0.16],[0.212,0.18],[0.212,0.21],[0.212,0.23],[0.212,0.26],[0.212,0.28],[0.212,0.31],[0.212,0.33],[0.212,0.36],[0.212,0.38],[0.212,0.41],
  [0.237,0.11],[0.237,0.14],[0.237,0.17],[0.237,0.19],[0.237,0.22],[0.237,0.24],[0.237,0.27],[0.237,0.29],[0.237,0.32],[0.237,0.34],[0.237,0.37],[0.237,0.4],[0.237,0.44],
  [0.262,0.13],[0.262,0.16],[0.262,0.19],[0.262,0.22],[0.262,0.24],[0.262,0.27],[0.262,0.29],[0.262,0.32],[0.262,0.34],[0.262,0.37],[0.262,0.39],[0.262,0.42],
  [0.287,0.15],[0.287,0.18],[0.287,0.21],[0.287,0.23],[0.287,0.26],[0.287,0.28],[0.287,0.31],[0.287,0.33],[0.287,0.36],[0.287,0.38],[0.287,0.41],[0.287,0.44],
  [0.312,0.18],[0.312,0.21],[0.312,0.23],[0.312,0.26],[0.312,0.28],[0.312,0.31],[0.312,0.33],[0.312,0.36],[0.312,0.38],[0.312,0.41],[0.312,0.43],[0.312,0.46],
  [0.337,0.2],[0.337,0.23],[0.337,0.26],[0.337,0.29],[0.337,0.31],[0.337,0.34],[0.337,0.36],[0.337,0.39],[0.337,0.41],[0.337,0.44],[0.337,0.46],[0.337,0.5],
  [0.362,0.22],[0.362,0.25],[0.362,0.28],[0.362,0.31],[0.362,0.34],[0.362,0.37],[0.362,0.39],[0.362,0.42],[0.362,0.44],[0.362,0.47],[0.362,0.5],[0.362,0.53],
  [0.387,0.25],[0.387,0.28],[0.387,0.31],[0.387,0.34],[0.387,0.37],[0.387,0.39],[0.387,0.42],[0.387,0.44],[0.387,0.47],[0.387,0.5],[0.387,0.53],
  [0.412,0.28],[0.412,0.32],[0.412,0.35],[0.412,0.38],[0.412,0.41],[0.412,0.43],[0.412,0.45],[0.412,0.48],[0.412,0.51],[0.412,0.55],
  [0.437,0.31],[0.437,0.35],[0.437,0.38],[0.437,0.41],[0.437,0.44],[0.437,0.47],[0.437,0.5],[0.437,0.53],
  [0.462,0.33],[0.462,0.37],[0.462,0.41],[0.462,0.44],[0.462,0.47],[0.462,0.5]
];

const amerindia = [
  [0,0.04],[0.01,0.005],[0.02,0],[0.03,0.005],[0.05,0],[0.04,0.03],[0.06,0.06],[0.07,0.07],[0.08,0.05],[0.07,0.09],
  [0.09,0.1],[0.1,0.08],[0.1,0.13],[0.11,0.12],[0.12,0.09],[0.13,0.08],[0.14,0.13],[0.15,0.1],[0.15,0.15],[0.16,0.11],
  [0.17,0.14],[0.17,0.17],[0.18,0.13],[0.18,0.19],[0.19,0.16],[0.19,0.23],[0.2,0.1],[0.213,0.067],[0.23,0.28],[0.268,0.578],
  [0.2,0.14],[0.202,0.16],[0.199,0.18],[0.202,0.2],[0.199,0.22],
  [0.22,0.15],[0.222,0.17],[0.219,0.19],[0.222,0.21],[0.219,0.23],[0.222,0.25],
  [0.24,0.17],[0.242,0.19],[0.239,0.21],[0.242,0.23],[0.239,0.25],
  [0.26,0.18],[0.262,0.2],[0.259,0.22],[0.262,0.24],[0.259,0.26],[0.262,0.28],
  [0.28,0.19],[0.282,0.21],[0.279,0.23],[0.282,0.25],[0.279,0.27],[0.282,0.29],
  [0.3,0.21],[0.302,0.23],[0.299,0.25],[0.302,0.27],[0.299,0.29],[0.302,0.31],
  [0.32,0.22],[0.322,0.24],[0.319,0.26],[0.322,0.28],[0.319,0.3],[0.322,0.32],[0.319,0.34],
  [0.34,0.23],[0.342,0.25],[0.339,0.27],[0.342,0.29],[0.339,0.31],[0.342,0.33],[0.339,0.35],
  [0.36,0.25],[0.362,0.27],[0.359,0.29],[0.362,0.31],[0.359,0.33],[0.362,0.35],[0.359,0.37],
  [0.38,0.26],[0.382,0.28],[0.379,0.3],[0.382,0.32],[0.379,0.34],[0.382,0.36],[0.379,0.38],[0.382,0.4],
  [0.4,0.27],[0.402,0.29],[0.399,0.31],[0.402,0.33],[0.399,0.35],[0.402,0.37],[0.399,0.39],[0.402,0.41],
  [0.42,0.29],[0.422,0.31],[0.419,0.33],[0.422,0.35],[0.419,0.37],[0.422,0.39],[0.419,0.41],[0.422,0.43],
  [0.44,0.3],[0.442,0.32],[0.439,0.34],[0.442,0.36],[0.439,0.38],[0.442,0.4],[0.439,0.42],[0.442,0.44],[0.439,0.46],
  [0.46,0.32],[0.462,0.34],[0.459,0.36],[0.462,0.38],[0.459,0.4],[0.462,0.42],[0.459,0.44],[0.462,0.46],
  [0.48,0.33],[0.482,0.35],[0.479,0.37],[0.482,0.39],[0.479,0.41],[0.482,0.43],[0.479,0.45],[0.482,0.47],
  [0.5,0.35],[0.502,0.37],[0.499,0.39],[0.502,0.41],[0.499,0.43],[0.502,0.45],[0.499,0.47],[0.502,0.49],
  [0.52,0.36],[0.522,0.38],[0.519,0.4],[0.522,0.42],[0.519,0.44],[0.522,0.46],[0.519,0.48],[0.522,0.5],
  [0.54,0.38],[0.542,0.4],[0.539,0.42],[0.542,0.44],[0.539,0.46],[0.542,0.48],[0.539,0.5],[0.542,0.52],
  [0.56,0.4],[0.562,0.42],[0.559,0.44],[0.562,0.46],[0.559,0.48],[0.562,0.5],[0.559,0.52],
  [0.58,0.42],[0.582,0.44],[0.579,0.46],[0.582,0.48],[0.579,0.5],[0.582,0.52],[0.579,0.54],
  [0.6,0.44],[0.602,0.46],[0.599,0.48],[0.602,0.5],[0.599,0.52],[0.602,0.54],[0.599,0.56],
  [0.62,0.46],[0.622,0.48],[0.619,0.5],[0.622,0.52],[0.619,0.54],[0.622,0.56],
  [0.64,0.48],[0.642,0.5],[0.639,0.52],[0.642,0.54],[0.639,0.56],[0.642,0.58],
  [0.66,0.5],[0.662,0.53],[0.659,0.55],[0.662,0.57],[0.659,0.6],
  [0.52,0.26],[0.629,0.27],[0.998,0.305],[0.7,0.5],[0.735,0.53],[0.778,0.714],[0.905,0.675],
  [0.68,0.58],[0.68,0.54],[0.69,0.6],[0.7,0.56],[0.7,0.62],[0.71,0.58],[0.72,0.6],[0.72,0.55],[0.73,0.63],[0.74,0.59],
  [0.75,0.66],[0.75,0.61],[0.76,0.65],[0.77,0.62],[0.78,0.67],[0.79,0.64],[0.8,0.68],[0.8,0.71],[0.81,0.66],[0.82,0.7],
  [0.83,0.72],[0.83,0.68],[0.84,0.74],[0.85,0.71],[0.86,0.73],[0.87,0.76],[0.88,0.72],[0.88,0.78],[0.89,0.75],[0.9,0.8],
  [0.9,0.76],[0.91,0.82],[0.92,0.78],[0.93,0.8],[0.94,0.84],[0.95,0.82],[0.96,0.8],[0.97,0.83],[0.98,0.85],[1,0.78],
  [1,0.8],[1,0.81],[1,0.83],[1,0.84],[1,0.85],[1,0.86],[1,0.87],[0.86,0.68],[0.72,0.65],[0.74,0.63],[0.77,0.69],[0.68,0.64],
  [0.67,0.55],[0.69,0.57],[0.71,0.6],[0.73,0.6],[0.75,0.63],[0.77,0.65],[0.79,0.67],[0.81,0.69],[0.83,0.7],[0.85,0.73],
  [0.87,0.73],[0.89,0.77],[0.91,0.78],[0.93,0.82],[0.95,0.8],[0.97,0.81],[0.99,0.83],[0.67,0.6],[0.71,0.63],[0.76,0.68]
];
const amerindiaDense = [
  [0.21,0.15],[0.21,0.17],[0.21,0.19],[0.21,0.21],[0.21,0.23],
  [0.23,0.16],[0.23,0.18],[0.23,0.2],[0.23,0.22],[0.23,0.24],
  [0.25,0.17],[0.25,0.19],[0.25,0.21],[0.25,0.23],[0.25,0.25],[0.25,0.27],
  [0.27,0.19],[0.27,0.21],[0.27,0.23],[0.27,0.25],[0.27,0.27],
  [0.29,0.2],[0.29,0.22],[0.29,0.24],[0.29,0.26],[0.29,0.28],[0.29,0.3],
  [0.31,0.21],[0.31,0.23],[0.31,0.25],[0.31,0.27],[0.31,0.29],[0.31,0.31],[0.31,0.33],
  [0.33,0.23],[0.33,0.25],[0.33,0.27],[0.33,0.29],[0.33,0.31],[0.33,0.33],
  [0.35,0.24],[0.35,0.26],[0.35,0.28],[0.35,0.3],[0.35,0.32],[0.35,0.34],[0.35,0.36],
  [0.37,0.25],[0.37,0.27],[0.37,0.29],[0.37,0.31],[0.37,0.33],[0.37,0.35],[0.37,0.37],[0.37,0.39],
  [0.39,0.27],[0.39,0.29],[0.39,0.31],[0.39,0.33],[0.39,0.35],[0.39,0.37],[0.39,0.39],
  [0.41,0.28],[0.41,0.3],[0.41,0.32],[0.41,0.34],[0.41,0.36],[0.41,0.38],[0.41,0.4],[0.41,0.42],
  [0.43,0.3],[0.43,0.32],[0.43,0.34],[0.43,0.36],[0.43,0.38],[0.43,0.4],[0.43,0.42],[0.43,0.44],
  [0.45,0.31],[0.45,0.33],[0.45,0.35],[0.45,0.37],[0.45,0.39],[0.45,0.41],[0.45,0.43],[0.45,0.45],
  [0.47,0.33],[0.47,0.35],[0.47,0.37],[0.47,0.39],[0.47,0.41],[0.47,0.43],[0.47,0.45],
  [0.49,0.34],[0.49,0.36],[0.49,0.38],[0.49,0.4],[0.49,0.42],[0.49,0.44],[0.49,0.46],[0.49,0.48],
  [0.51,0.36],[0.51,0.38],[0.51,0.4],[0.51,0.42],[0.51,0.44],[0.51,0.46],[0.51,0.48],
  [0.53,0.37],[0.53,0.39],[0.53,0.41],[0.53,0.43],[0.53,0.45],[0.53,0.47],[0.53,0.49],[0.53,0.51],
  [0.55,0.39],[0.55,0.41],[0.55,0.43],[0.55,0.45],[0.55,0.47],[0.55,0.49],[0.55,0.51],
  [0.57,0.41],[0.57,0.43],[0.57,0.45],[0.57,0.47],[0.57,0.49],[0.57,0.51],[0.57,0.53],
  [0.59,0.43],[0.59,0.45],[0.59,0.47],[0.59,0.49],[0.59,0.51],[0.59,0.53],
  [0.61,0.45],[0.61,0.47],[0.61,0.49],[0.61,0.51],[0.61,0.53],[0.61,0.55],
  [0.63,0.47],[0.63,0.49],[0.63,0.51],[0.63,0.53],[0.63,0.55],
  [0.65,0.49],[0.65,0.51],[0.65,0.53],[0.65,0.55],[0.65,0.57]
];

const PAD_L = 44, PAD_T = 8, PAD_R = 14, PAD_B = 24;

function toXY(arr) {
  return arr.map(([x, y]) => ({ x, y }));
}

function axis(min, max, vals, labels, isX) {
  const o = {
    type: 'linear',
    min: min,
    max: max,
    bounds: 'data',
    border: { display: true, color: '#222', width: 1.4 },
    grid: { drawOnChartArea: false, drawTicks: true, tickLength: 4, color: '#333', lineWidth: 1 },
    ticks: {
      color: '#4d4d4d',
      font: { family: 'Liberation Sans', size: 10 },
      padding: 1,
      autoSkip: false,
      maxRotation: 0,
      callback: (v, i) => labels[i]
    },
    afterBuildTicks: s => { s.ticks = vals.map(v => ({ value: v })); }
  };
  if (isX) o.afterFit = s => { s.height = PAD_B; };
  else o.afterFit = s => { s.width = PAD_L; };
  return o;
}

function drawPanel(id, box, points, fit, xr, yr, tv, tl) {
  const cv = document.getElementById(id);
  const w = box.r - box.l + PAD_L + PAD_R;
  const h = box.b - box.t + PAD_T + PAD_B;
  cv.width = w;
  cv.height = h;
  cv.style.left = (box.l - PAD_L) + 'px';
  cv.style.top = (box.t - PAD_T) + 'px';
  cv.style.width = w + 'px';
  cv.style.height = h + 'px';

  new Chart(cv.getContext('2d'), {
    type: 'scatter',
    data: {
      datasets: [
        { data: toXY(fit), showLine: true, borderColor: '#ff0000', borderWidth: 2.5, borderDash: [9, 6], pointRadius: 0, order: 0 },
        { data: toXY(identityLine), showLine: true, borderColor: '#bdbdbd', borderWidth: 1, pointRadius: 0, order: 1 },
        { data: toXY(points), backgroundColor: '#000', borderWidth: 0, pointRadius: 2.4, order: 2 }
      ]
    },
    options: {
      responsive: false,
      animation: false,
      events: [],
      layout: { padding: { left: 0, top: PAD_T, right: PAD_R, bottom: 0 } },
      plugins: { legend: { display: false }, tooltip: { enabled: false } },
      scales: {
        x: axis(xr[0], xr[1], tv, tl, true),
        y: axis(yr[0], yr[1], tv, tl, false)
      }
    }
  });
}

drawPanel('afr', { l: 54, t: 56, r: 305, b: 287 }, africana.concat(africanaDense), fitAfricana, [-0.0149, 0.3134], [-0.0149, 0.3134], ticksAfr, labelsAfr);
drawPanel('eur', { l: 356, t: 57, r: 608, b: 288 }, europea.concat(europeaDense), fitEuropea, [-0.05, 1.05], [-0.05, 1.05], ticks01, labels01);
drawPanel('aym', { l: 660, t: 57, r: 913, b: 280 }, aymara.concat(aymaraDense), fitAymara, [-0.05, 1.05], [-0.05, 1.05], ticks01, labels01);
drawPanel('map', { l: 60, t: 351, r: 306, b: 574 }, mapuche.concat(mapucheDense), fitMapuche, [-0.05, 1.05], [-0.05, 1.05], ticks01, labels01);
drawPanel('ame', { l: 356, t: 351, r: 608, b: 574 }, amerindia.concat(amerindiaDense), fitAmerindia, [-0.05, 1.05], [-0.05, 1.05], ticks01, labels01);
</script>
</body>
</html>
